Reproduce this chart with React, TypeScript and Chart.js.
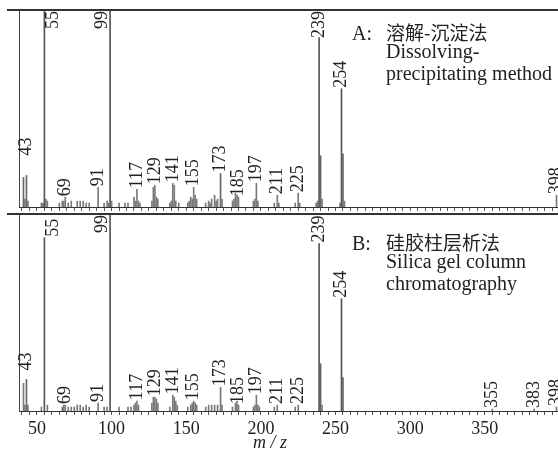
import React, { useEffect, useRef } from 'react';
import { Chart, registerables } from 'chart.js';

Chart.register(...registerables);

// ---- Data (m/z and relative intensity, % of panel height) ----
const mzA = [41, 42, 43, 44, 53, 54, 55, 56, 57, 65, 67, 68, 69, 71, 73, 77, 79, 81, 83, 85, 91, 95, 97, 98, 99, 100, 105, 109, 111, 115, 116, 117, 118, 119, 127, 128, 129, 130, 131, 139, 140, 141, 142, 143, 145, 151, 152, 153, 154, 155, 156, 157, 163, 165, 166, 167, 169, 170, 171, 173, 174, 181, 182, 183, 184, 185, 195, 196, 197, 198, 209, 211, 212, 223, 225, 226, 237, 238, 239, 240, 241, 253, 254, 255, 256, 398];
const intA = [15, 4, 16, 3, 2, 2, 100, 4, 3, 2, 3, 3, 5, 2, 3, 3, 3, 3, 2, 2, 10, 2, 3, 2, 100, 3, 2, 2, 2, 5, 3, 9, 3, 2, 3, 10, 11, 5, 4, 2, 3, 12, 11, 3, 2, 2, 3, 5, 4, 10, 6, 4, 2, 3, 2, 4, 6, 3, 4, 17, 4, 3, 4, 7, 6, 5, 3, 4, 12, 3, 2, 6, 2, 2, 7, 2, 2, 3, 86, 26, 4, 2, 60, 27, 3, 6];

const mzB = [41, 42, 43, 44, 53, 55, 57, 67, 68, 69, 71, 73, 75, 77, 79, 81, 83, 85, 91, 95, 97, 99, 105, 111, 113, 115, 116, 117, 118, 127, 128, 129, 130, 131, 139, 141, 142, 143, 144, 151, 153, 154, 155, 156, 157, 163, 165, 167, 169, 171, 173, 174, 181, 183, 184, 185, 195, 196, 197, 198, 199, 209, 211, 223, 225, 239, 240, 241, 254, 255, 355, 383, 398];
const intB = [14, 3, 16, 3, 2, 88, 3, 2, 3, 3, 2, 2, 2, 3, 3, 2, 3, 2, 4, 2, 2, 100, 2, 2, 2, 3, 4, 5, 3, 4, 7, 7, 6, 4, 2, 8, 7, 5, 3, 2, 3, 4, 5, 4, 3, 2, 3, 3, 3, 3, 12, 3, 2, 4, 5, 3, 2, 3, 8, 3, 2, 2, 3, 2, 3, 85, 24, 3, 57, 17, 1, 1, 2];

const labeledA = [43, 55, 69, 91, 99, 117, 129, 141, 155, 173, 185, 197, 211, 225, 239, 254, 398];
const labeledB = [43, 55, 69, 91, 99, 117, 129, 141, 155, 173, 185, 197, 211, 225, 239, 254, 355, 383, 398];

const tickLabels = [50, 100, 150, 200, 250, 300, 350];
const captionA = ['A:', '溶解-沉淀法', 'Dissolving-', 'precipitating method'];
const captionB = ['B:', '硅胶柱层析法', 'Silica gel column', 'chromatography'];
const axisTitle = 'm / z';

const X_MIN = 38;
const X_MAX = 399;
const MINOR_STEP = 5;

const SERIF = '"Liberation Serif", "Times New Roman", serif';
const CJK = '"Noto Sans CJK SC", sans-serif';
const INK = '#222';

type Nudge = { dx?: number; dy?: number };

function minorTicks() {
  const out: { value: number }[] = [];
  for (let v = Math.ceil(X_MIN / MINOR_STEP) * MINOR_STEP; v <= X_MAX; v += MINOR_STEP) out.push({ value: v });
  return out;
}

function makeChart(
  canvas: HTMLCanvasElement,
  mz: number[],
  inten: number[],
  labeled: number[],
  caption: string[],
  opts: {
    padTop: number;
    padBottom: number;
    axisHeight: number;
    showTickLabels: boolean;
    captionTop: number;
    nudges: Record<number, Nudge>;
    title?: { x: number; y: number };
  }
) {
  const overlay = {
    id: 'msOverlay',
    afterDatasetsDraw(chart: any) {
      const { ctx, chartArea, scales } = chart;
      const xs = scales.x;
      const ys = scales.y;
      ctx.save();
      // frame: left line and heavy top line
      ctx.strokeStyle = '#444';
      ctx.lineWidth = 1;
      ctx.beginPath();
      ctx.moveTo(chartArea.left + 0.5, chartArea.top);
      ctx.lineTo(chartArea.left + 0.5, chartArea.bottom);
      ctx.stroke();
      ctx.strokeStyle = '#333';
      ctx.lineWidth = 2;
      ctx.beginPath();
      ctx.moveTo(chartArea.left - 12, chartArea.top);
      ctx.lineTo(chartArea.right, chartArea.top);
      ctx.stroke();

      // peak labels (rotated)
      ctx.font = `18px ${SERIF}`;
      ctx.fillStyle = INK;
      ctx.textAlign = 'left';
      ctx.textBaseline = 'middle';
      for (const m of labeled) {
        const idx = mz.indexOf(m);
        const h = idx >= 0 ? inten[idx] : 0;
        const n = opts.nudges[m] || {};
        const text = String(m);
        const w = ctx.measureText(text).width;
        const x = xs.getPixelForValue(m) + (n.dx || 0);
        let yb = ys.getPixelForValue(h) - 1 + (n.dy || 0);
        if (yb - w < chartArea.top + 1) yb = chartArea.top + 1 + w;
        ctx.save();
        ctx.translate(x, yb);
        ctx.rotate(-Math.PI / 2);
        ctx.fillText(text, 0, 0);
        ctx.restore();
      }

      // caption
      const cy = chartArea.top + opts.captionTop;
      ctx.textBaseline = 'alphabetic';
      ctx.font = `20px ${SERIF}`;
      ctx.fillText(caption[0], 352, cy);
      ctx.font = `19px ${CJK}`;
      ctx.fillText(caption[1], 386, cy);
      ctx.font = `20px ${SERIF}`;
      ctx.fillText(caption[2], 386, cy + 17.5);
      ctx.fillText(caption[3], 386, cy + 39.5);

      if (opts.title) {
        ctx.font = `italic 18px ${SERIF}`;
        ctx.textAlign = 'center';
        ctx.textBaseline = 'middle';
        ctx.fillText(axisTitle, opts.title.x, opts.title.y);
      }
      ctx.restore();
    },
  };

  return new Chart(canvas, {
    type: 'bar',
    data: {
      datasets: [
        {
          data: mz.map((m, i) => ({ x: m, y: inten[i] })),
          backgroundColor: (c: any) => {
            const v = c.raw && typeof c.raw.y === 'number' ? c.raw.y : 0;
            return v >= 50 ? '#555' : v >= 15 ? '#666' : '#7a7a7a';
          },
          borderWidth: 0,
          barThickness: 1,
        },
      ],
    },
    options: {
      responsive: false,
      animation: false,
      events: [],
      layout: { padding: { left: 19, right: 0, top: opts.padTop, bottom: opts.padBottom } },
      plugins: { legend: { display: false }, tooltip: { enabled: false } },
      scales: {
        x: {
          type: 'linear',
          min: X_MIN,
          max: X_MAX,
          offset: false,
          afterBuildTicks: (scale: any) => {
            scale.ticks = minorTicks();
          },
          afterFit: (scale: any) => {
            scale.height = opts.axisHeight;
          },
          grid: {
            offset: false,
            drawOnChartArea: false,
            drawTicks: true,
            tickLength: 4,
            tickColor: '#555',
          },
          border: { display: true, color: '#333', width: 1 },
          ticks: {
            display: opts.showTickLabels,
            autoSkip: false,
            maxRotation: 0,
            minRotation: 0,
            padding: 3,
            color: INK,
            font: { family: SERIF, size: 18 },
            callback: (v: any) => (tickLabels.includes(Number(v)) ? String(v) : ''),
          },
        },
        y: { display: false, min: 0, max: 100 },
      },
    },
    plugins: [overlay],
  } as any);
}

export default function App() {
  const topRef = useRef<HTMLCanvasElement>(null);
  const botRef = useRef<HTMLCanvasElement>(null);

  useEffect(() => {
    document.body.style.margin = '0';
    document.body.style.background = '#fff';
    const a = makeChart(topRef.current!, mzA, intA, labeledA, captionA, {
      padTop: 10,
      padBottom: 1,
      axisHeight: 4,
      showTickLabels: false,
      captionTop: 30,
      nudges: { 43: { dy: -19 }, 55: { dx: 9 }, 99: { dx: -8 } },
    });
    const b = makeChart(botRef.current!, mzB, intB, labeledB, captionB, {
      padTop: 4,
      padBottom: 0,
      axisHeight: 50,
      showTickLabels: true,
      captionTop: 36,
      nudges: { 43: { dy: -8 }, 55: { dx: 9 }, 99: { dx: -8 } },
      title: { x: 270, y: 233 },
    });
    return () => {
      a.destroy();
      b.destroy();
    };
  }, []);

  return (
    <div style={{ position: 'relative', width: 558, height: 461, background: '#fff' }}>
      <canvas ref={topRef} width={558} height={212} style={{ position: 'absolute', left: 0, top: 0 }} />
      <canvas ref={botRef} width={558} height={251} style={{ position: 'absolute', left: 0, top: 210 }} />
    </div>
  );
}
